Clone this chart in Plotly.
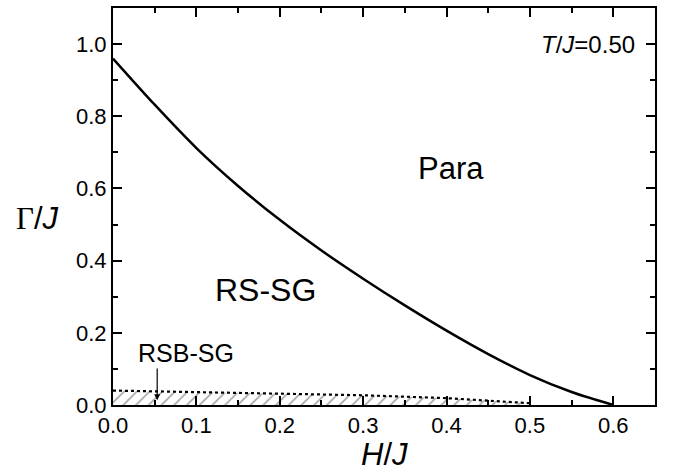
import plotly.graph_objects as go

# AT line (RS-SG / Para boundary)
h_at = [0.0, 0.05, 0.1, 0.15, 0.2, 0.25, 0.3, 0.35, 0.4, 0.45, 0.5, 0.55, 0.6]
g_at = [0.96, 0.832, 0.712, 0.607, 0.513, 0.428, 0.350, 0.276, 0.206, 0.141, 0.083, 0.036, 0.0]

# RSB-SG boundary (dotted)
h_rsb = [0.0, 0.1, 0.2, 0.3, 0.4, 0.45, 0.5]
g_rsb = [0.04, 0.036, 0.032, 0.027, 0.019, 0.013, 0.005]

x_ticks = [0.0, 0.1, 0.2, 0.3, 0.4, 0.5, 0.6]
y_ticks = [0.0, 0.2, 0.4, 0.6, 0.8, 1.0]

FONT = "Liberation Sans, Arial, sans-serif"

fig = go.Figure()

fig.add_trace(go.Scatter(
    x=h_rsb, y=g_rsb, mode="lines", fill="tozeroy",
    line=dict(color="black", width=2.2, dash="dot"),
    fillcolor="rgba(0,0,0,0)",
    fillpattern=dict(shape="/", size=9, solidity=0.15, fgcolor="#222222", bgcolor="white"),
    showlegend=False, hoverinfo="skip",
))

fig.add_trace(go.Scatter(
    x=h_at, y=g_at, mode="lines", line=dict(color="black", width=2.5, shape="spline", smoothing=0.8),
    showlegend=False, hoverinfo="skip",
))

axis_common = dict(
    showgrid=False, zeroline=False, showline=True, linecolor="black", linewidth=2,
    mirror="allticks", ticks="inside", ticklen=9, tickwidth=1.8, tickcolor="black",
    tickfont=dict(family=FONT, size=22, color="black"),
)

fig.update_xaxes(range=[0, 0.65], tickvals=x_ticks, ticktext=[f"{v:.1f}" for v in x_ticks],
                 minor=dict(ticks="inside", ticklen=5, tickwidth=1.5, tickcolor="black", dtick=0.05, tick0=0),
                 **axis_common)
fig.update_yaxes(range=[0, 1.1], tickvals=y_ticks, ticktext=[f"{v:.1f}" for v in y_ticks],
                 minor=dict(ticks="inside", ticklen=5, tickwidth=1.5, tickcolor="black", dtick=0.1, tick0=0),
                 **axis_common)

fig.add_annotation(x=0.183, y=0.32, text="RS-SG", showarrow=False,
                   font=dict(family=FONT, size=32, color="black"))
fig.add_annotation(x=0.405, y=0.655, text="Para", showarrow=False,
                   font=dict(family=FONT, size=31, color="black"))
fig.add_annotation(x=0.628, y=1.0, text="<i>T</i>/<i>J</i>=0.50", showarrow=False,
                   xanchor="right", font=dict(family=FONT, size=24, color="black"))
fig.add_annotation(x=0.053, y=0.013, ax=0.053, ay=0.105, axref="x", ayref="y",
                   text="", showarrow=True, arrowhead=2, arrowsize=1, arrowwidth=1.2,
                   arrowcolor="black")
fig.add_annotation(x=0.088, y=0.143, text="RSB-SG", showarrow=False,
                   font=dict(family=FONT, size=25, color="black"))

# axis titles
fig.add_annotation(xref="paper", yref="paper", x=0.5, y=-0.125, yanchor="middle",
                   text="<i>H</i>/<i>J</i>", showarrow=False,
                   font=dict(family=FONT, size=31, color="black"))
fig.add_annotation(xref="paper", yref="paper", x=-0.14, y=0.47, xanchor="center",
                   text="<span style='font-family:Liberation Serif, Times New Roman, serif'>Γ</span>/<i>J</i>",
                   showarrow=False, font=dict(family=FONT, size=31, color="black"))

fig.update_layout(
    width=673, height=474,
    margin=dict(l=113, r=18, t=6, b=69),
    paper_bgcolor="white", plot_bgcolor="white",
)

fig.write_html("out.html")
